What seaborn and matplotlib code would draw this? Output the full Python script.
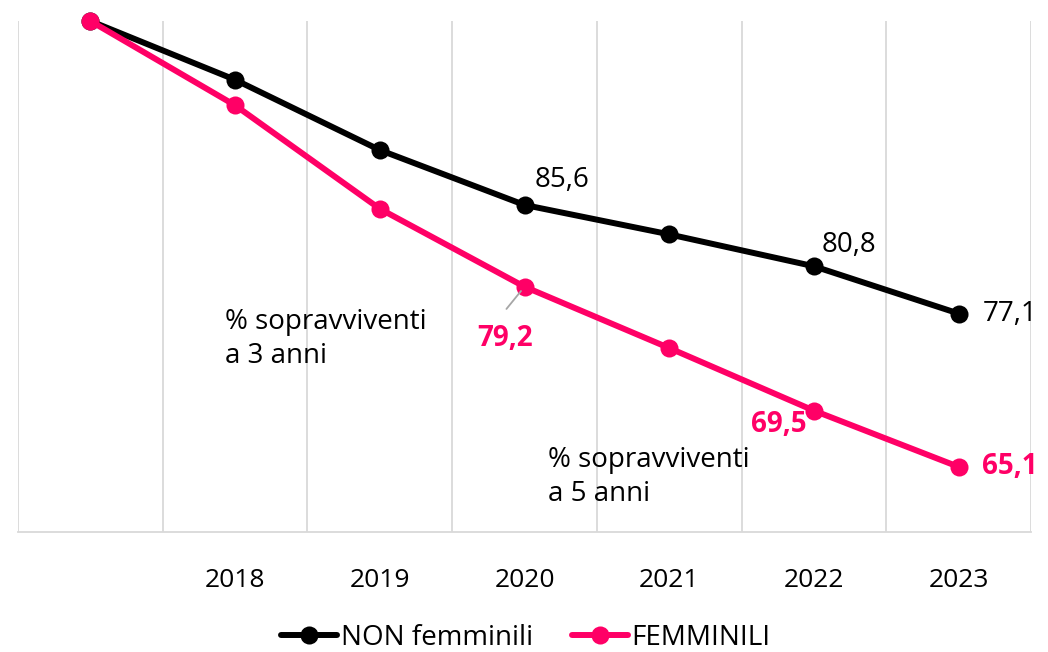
import matplotlib
matplotlib.use("Agg")
import matplotlib.pyplot as plt
import seaborn as sns
import pandas as pd

# data
years = ["", "2018", "2019", "2020", "2021", "2022", "2023"]
non_femminili = [100.0, 95.4, 89.9, 85.6, 83.3, 80.8, 77.1]
femminili = [100.0, 93.4, 85.3, 79.2, 74.4, 69.5, 65.1]
series_names = ["NON femminili", "FEMMINILI"]

BLACK = "#000000"
PINK = "#FF0066"
FS = 20

df = pd.DataFrame({
    "pos": list(range(len(years))) * 2,
    "value": non_femminili + femminili,
    "serie": [series_names[0]] * len(years) + [series_names[1]] * len(years),
})

sns.set_theme(style="white")
plt.rcParams["font.family"] = ["Open Sans", "DejaVu Sans"]
plt.rcParams["text.color"] = "black"
plt.rcParams["xtick.color"] = "black"

fig = plt.figure(figsize=(10.48, 6.52), dpi=100)
ax = fig.add_axes([18 / 1048, 1 - 532 / 652, (1031 - 18) / 1048, (532 - 21) / 652])

sns.lineplot(
    data=df, x="pos", y="value", hue="serie",
    palette=[BLACK, PINK], marker="o", markersize=13, linewidth=4.3,
    markeredgewidth=0, ax=ax, legend=False, zorder=3, clip_on=False,
)

ax.set_xlim(-0.5, len(years) - 0.5)
ax.set_ylim(60, 100)
ax.set_yticks([])
ax.set_xticks(range(len(years)))
ax.set_xticklabels(years, fontsize=FS - 1)
ax.tick_params(axis="x", length=0, pad=26)
ax.set_xlabel("")
ax.set_ylabel("")
for x in [i - 0.5 for i in range(len(years) + 1)]:
    ax.axvline(x, color="#D9D9D9", linewidth=1.3, zorder=0)
for s in ["top", "left", "right"]:
    ax.spines[s].set_visible(False)
ax.spines["bottom"].set_color("#D9D9D9")
ax.spines["bottom"].set_linewidth(1.3)

# data labels
black_labels = {3: (27, 18), 5: (25, 15), 6: (37, 0)}
for i, off in black_labels.items():
    ax.annotate(f"{non_femminili[i]:.1f}".replace(".", ","), (i, non_femminili[i]),
                xytext=off, textcoords="offset points", ha="center", va="center",
                fontsize=FS, color=BLACK)
pink_labels = {3: (-14, -37), 5: (-25, -10), 6: (37, 0)}
for i, off in pink_labels.items():
    ax.annotate(f"{femminili[i]:.1f}".replace(".", ","), (i, femminili[i]),
                xytext=off, textcoords="offset points", ha="center", va="center",
                fontsize=FS, color=PINK, fontweight="bold")
# leader line for 79,2
ax.annotate("", xy=(3, femminili[3]), xytext=(-13, -16), textcoords="offset points",
            arrowprops=dict(arrowstyle="-", color="#A6A6A6", lw=1.3,
                            shrinkA=0, shrinkB=4))

ax.text(0.93, 77.5, "% sopravviventi\na 3 anni", fontsize=FS, va="top", ha="left",
        linespacing=1.25)
ax.text(3.16, 66.7, "% sopravviventi\na 5 anni", fontsize=FS, va="top", ha="left",
        linespacing=1.25)

handles = [
    plt.Line2D([], [], color=BLACK, marker="o", markersize=13, linewidth=4.3,
               markeredgewidth=0),
    plt.Line2D([], [], color=PINK, marker="o", markersize=13, linewidth=4.3,
               markeredgewidth=0),
]
fig.legend(handles, series_names, loc="center", bbox_to_anchor=(526 / 1048, 1 - 638 / 652),
           ncol=2, frameon=False, fontsize=FS, handlelength=2.0, handletextpad=0.15,
           columnspacing=1.4)

fig.savefig("out.png", dpi=100)
